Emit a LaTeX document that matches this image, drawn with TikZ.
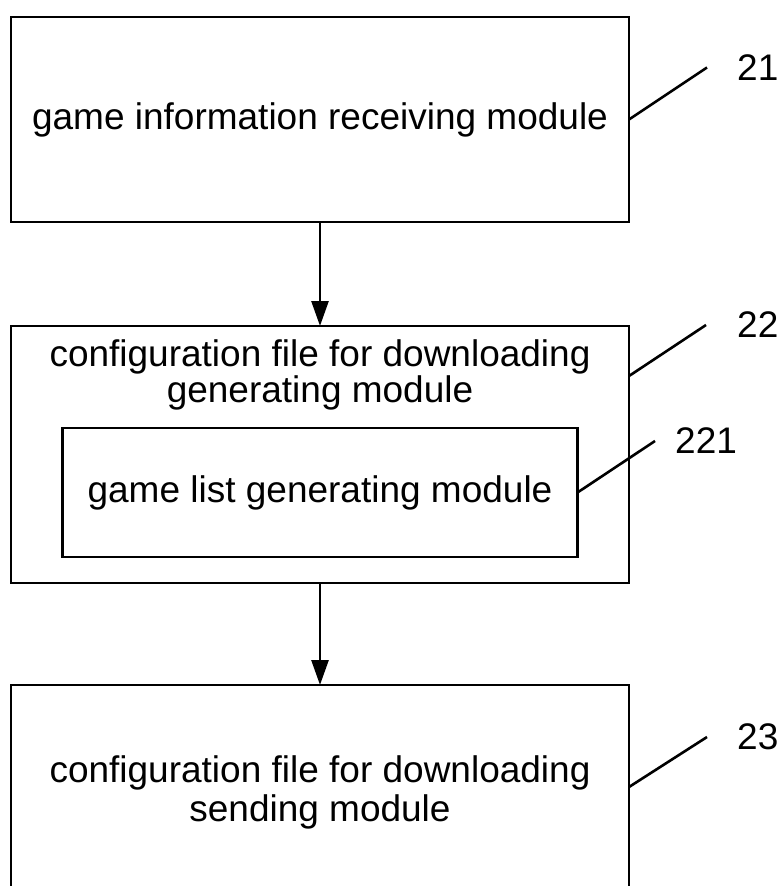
\documentclass[tikz,border=0pt]{standalone}
\usepackage{fontspec}
\setmainfont{Liberation Sans}
\usetikzlibrary{positioning,arrows.meta}

\begin{document}
\begin{tikzpicture}[x=1pt, y=-1pt, node distance=104pt,
  font=\fontsize{37}{37}\selectfont,
  module/.style={draw, line width=2.6pt, inner sep=0pt, outer sep=0pt, align=center},
  flow/.style={line width=2.6pt, -{Triangle[length=25pt,width=17pt]}},
  leader/.style={line width=2.6pt}]
\path[use as bounding box, clip] (0,0) rectangle (782,886);

\node[module, minimum width=618pt, minimum height=205pt] (GIR) at (320,119.5) {game information receiving module};
\node[module, minimum width=618pt, minimum height=257pt] (CFG) [below=of GIR] {};
\node (CFGtitle) [align=center, inner sep=0pt] at ([yshift=-49pt]CFG.north) {configuration file for downloading\\[-1pt]generating module};
\node[module, minimum width=515pt, minimum height=129pt] (GL) at ([yshift=-38pt]CFG.center) {game list generating module};
\node[module, minimum width=618pt, minimum height=215pt] (CFS) [below=102pt of CFG] {configuration file for downloading\\[2pt]sending module};

\draw[flow] (GIR) -- (CFG);
\draw[flow] (CFG) -- (CFS);

% reference numerals
\coordinate (T21) at (707,67.5);
\coordinate (T22) at (706,325);
\coordinate (T221) at (655,441);
\coordinate (T23) at (707,737);
\node (L21) [right=30pt of T21, inner sep=0pt] {21};
\node (L22) [right=31pt of T22, inner sep=0pt] {22};
\node (L221) [right=20pt of T221, inner sep=0pt] {221};
\node (L23) [right=30pt of T23, inner sep=0pt] {23};

\draw[leader] (GIR.east) -- (T21);
\draw[leader] ([yshift=-50pt]CFG.north east) -- (T22);
\draw[leader] (GL.east) -- (T221);
\draw[leader] ([yshift=-102pt]CFS.north east) -- (T23);
\end{tikzpicture}
\end{document}
